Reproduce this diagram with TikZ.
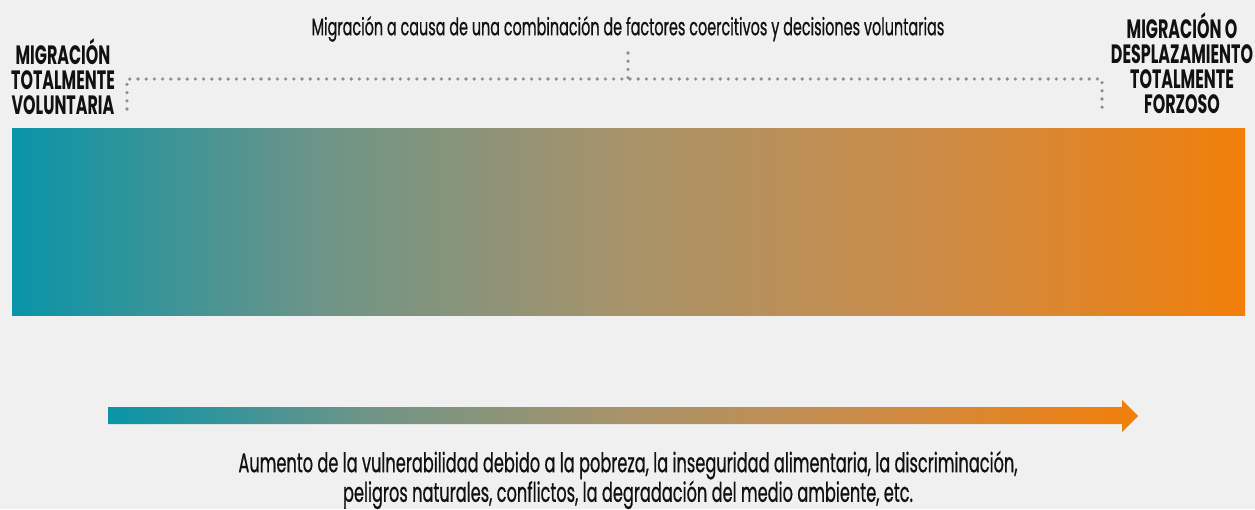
\documentclass[tikz,border=0pt]{standalone}
\usepackage{fontspec}
\setmainfont{Poppins}[FakeStretch=0.6]
\newfontfamily\plainfont{Poppins}[FakeStretch=0.6, FakeBold=0.6]
\definecolor{bg}{HTML}{F0F0F0}
\definecolor{cA}{HTML}{0994A8}
\definecolor{cB}{HTML}{6E9488}
\definecolor{cC}{HTML}{A8936A}
\definecolor{cD}{HTML}{CD8B46}
\definecolor{cE}{HTML}{F27F0A}
\definecolor{dotgray}{HTML}{8E8E8E}
\definecolor{txt}{HTML}{111111}
\pgfdeclarehorizontalshading{spectrum}{100bp}{color(0bp)=(cA); color(25bp)=(cA); color(37.5bp)=(cB); color(50bp)=(cC); color(62.5bp)=(cD); color(75bp)=(cE); color(100bp)=(cE)}
\tikzset{
  dotline/.style={draw=dotgray, line width=3.6pt, line cap=round, dash pattern=on 0pt off 8.2pt},
  bandlabel/.style={font=\bfseries\fontsize{26.5}{25}\selectfont, text=txt, align=center, inner sep=0pt},
  toplabel/.style={font=\plainfont\fontsize{24}{25}\selectfont, text=txt, align=center, inner sep=0pt},
  bottomlabel/.style={font=\plainfont\fontsize{27}{25}\selectfont, text=txt, align=center, inner sep=0pt},
}
\begin{document}
\begin{tikzpicture}[x=1pt,y=-1pt]
\useasboundingbox[fill=bg] (0,0) rectangle (1255,509);
% gradient band
\shade[shading=spectrum] (12,128) rectangle (1245,315);
% labels
\node[toplabel] (top) at (628,29) {Migración a causa de una combinación de factores coercitivos y decisiones voluntarias};
\node[bandlabel] (left) at (63,77) {MIGRACIÓN\\TOTALMENTE\\VOLUNTARIA};
\node[bandlabel] (right) at (1182,63) {MIGRACIÓN O\\DESPLAZAMIENTO\\TOTALMENTE\\FORZOSO};
% dotted bracket
\coordinate (bl) at (127,109);
\coordinate (tl) at (127,79);
\coordinate (tr) at (1102,79);
\coordinate (br) at (1102,109);
\coordinate (mt) at (628,53);
\coordinate (mb) at (628,79);
\draw[dotline] (bl) -- (tl) -- (tr) -- (br);
\draw[dotline] (mt) -- (mb);
% arrow
\shade[shading=spectrum] (108,407) -- (1122,407) -- (1122,400) -- (1138,416) -- (1122,432) -- (1122,424) -- (108,424) -- cycle;
\node[bottomlabel] (bottom) at (628,480) {Aumento de la vulnerabilidad debido a la pobreza, la inseguridad alimentaria, la discriminación,\\peligros naturales, conflictos, la degradación del medio ambiente, etc.};
\end{tikzpicture}
\end{document}
